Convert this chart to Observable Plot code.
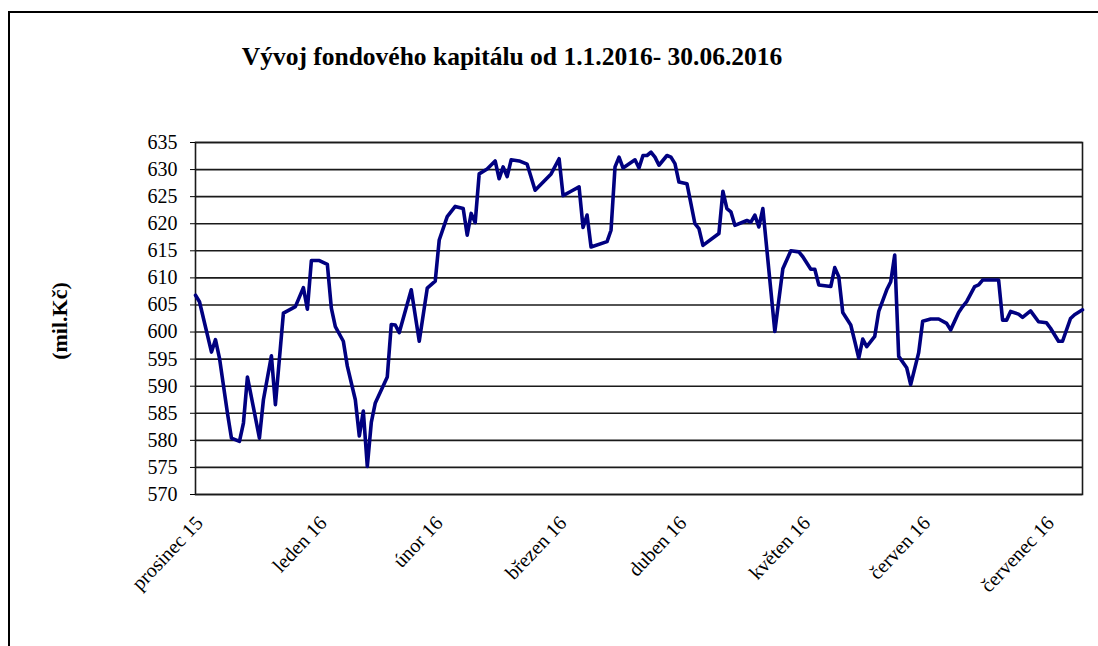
<!DOCTYPE html>
<html>
<head>
<meta charset="utf-8">
<script src="https://cdn.jsdelivr.net/npm/d3@7"></script>
<script src="https://cdn.jsdelivr.net/npm/@observablehq/plot@0.6"></script>
<style>
  html, body { margin: 0; padding: 0; background: #fff; font-family: 'Liberation Serif'; }
  #wrap { position: relative; width: 1098px; height: 646px; overflow: hidden; background: #fff; }
  #border { position: absolute; left: 8px; top: 11px; width: 1200px; height: 800px; border-left: 2px solid #000; border-top: 2px solid #000; }
  #title { position: absolute; left: 12px; top: 44px; width: 1000px; text-align: center; font-family: 'Liberation Serif'; font-weight: bold; font-size: 25.5px; line-height: 1; white-space: nowrap; color: #000; }
  #ylab { position: absolute; left: 60px; top: 321px; transform: translate(-50%, -50%) rotate(-90deg); font-family: 'Liberation Serif'; font-weight: bold; font-size: 22px; line-height: 1; white-space: nowrap; color: #000; }
  #chart { position: absolute; left: 0; top: 0; }
  #chart svg, #chart svg text { font-family: 'Liberation Serif' !important; }
</style>
</head>
<body>
<div id="wrap">
  <div id="border"></div>
  <div id="chart"></div>
  <div id="title">Vývoj fondového kapitálu od 1.1.2016- 30.06.2016</div>
  <div id="ylab">(mil.Kč)</div>
</div>
<script>
// Day offsets along the horizontal axis (0 = start of "prosinec 15")
const days = [0,1,4,5,6,8,9,11,12,13,
  16,17,19,20,22,25,27,28,29,31,
  33,34,35,37,38,40,41,42,43,44,
  45,48,49,50,51,54,56,58,60,61,
  63,65,67,68,69,70,71,73,75,76,
  77,78,79,81,83,85,89,91,92,94,
  96,97,98,99,103,104,105,106,107,110,
  111,112,113,114,115,116,118,119,120,121,
  123,125,126,127,131,132,133,134,135,138,
  139,140,141,142,145,146,147,149,151,152,
  154,155,156,159,160,161,162,164,165,166,
  167,168,170,171,173,174,175,176,178,179,
  181,182,184,186,188,189,191,192,193,195,
  196,197,201,202,203,204,206,207,209,211,
  213,214,216,217,219,220,222];

// Fund capital (mil. Kč)
const capital = [606.8,605.6,596.3,598.6,595.2,585.0,580.4,579.8,583.2,591.7,
  580.4,587.5,595.6,586.6,603.5,604.7,608.2,604.2,613.2,613.2,
  612.5,604.4,601.0,598.3,593.7,587.5,580.8,585.4,575.2,583.3,
  586.9,591.7,601.4,601.3,599.9,607.8,598.3,608.1,609.4,617.0,
  621.3,623.2,622.8,617.9,621.9,620.2,629.2,630.1,631.6,628.3,
  630.5,628.7,631.8,631.6,631.0,626.2,629.2,632.0,625.2,626.0,
  626.8,619.3,621.6,615.7,616.7,618.8,630.5,632.3,630.3,631.8,
  630.3,632.6,632.6,633.2,632.3,630.8,632.6,632.3,631.1,627.7,
  627.4,620.0,619.1,616.0,618.2,626.0,622.8,622.2,619.7,620.6,
  620.3,621.6,619.4,622.8,600.1,605.9,611.7,615.0,614.8,613.9,
  611.6,611.6,608.7,608.4,611.9,610.2,603.6,601.3,598.3,595.2,
  598.7,597.3,599.2,603.8,607.8,609.3,614.2,595.5,593.4,590.3,
  596.2,602.0,602.4,602.4,601.6,600.4,603.6,604.7,605.6,608.4,
  608.7,609.6,609.6,602.2,602.2,603.8,603.3,602.7,603.9,601.9,
  601.7,600.7,598.3,598.3,602.5,603.2,604.1];

// Axis tick positions and labels
const monthDays = [0, 31, 60, 91, 121, 152, 182, 213];
const monthLabels = ["prosinec 15", "leden 16", "únor 16", "březen 16", "duben 16", "květen 16", "červen 16", "červenec 16"];
const yTicks = [570, 575, 580, 585, 590, 595, 600, 605, 610, 615, 620, 625, 630, 635];
const xDomain = [0, 222];
const yDomain = [570, 635];

const data = days.map((d, i) => ({day: d, value: capital[i]}));
const labelByDay = new Map(monthDays.map((d, i) => [d, monthLabels[i]]));

const chart = Plot.plot({
  width: 1098,
  height: 646,
  marginLeft: 195,
  marginRight: 16,
  marginTop: 142,
  marginBottom: 152,
  style: {fontFamily: "Liberation Serif", fontSize: "20px", color: "#000", background: "transparent", overflow: "visible"},
  x: {type: "linear", domain: xDomain},
  y: {domain: yDomain},
  marks: [
    Plot.gridY(yTicks, {stroke: "#1a1a1a", strokeOpacity: 1, strokeWidth: 1.6}),
    Plot.frame({stroke: "#1a1a1a", strokeWidth: 1.6}),
    Plot.axisY(yTicks, {tickSize: 5, tickPadding: 13, label: null, fontSize: 20, tickFormat: d => String(d)}),
    Plot.axisX(monthDays, {tickSize: 0, tickPadding: 25, tickRotate: -46.5, dx: 4, label: null, fontSize: 20, tickFormat: d => labelByDay.get(d)}),
    Plot.line(data, {x: "day", y: "value", stroke: "#000080", strokeWidth: 3.6, strokeLinejoin: "round", strokeLinecap: "round"})
  ]
});
document.getElementById("chart").appendChild(chart);
</script>
</body>
</html>
